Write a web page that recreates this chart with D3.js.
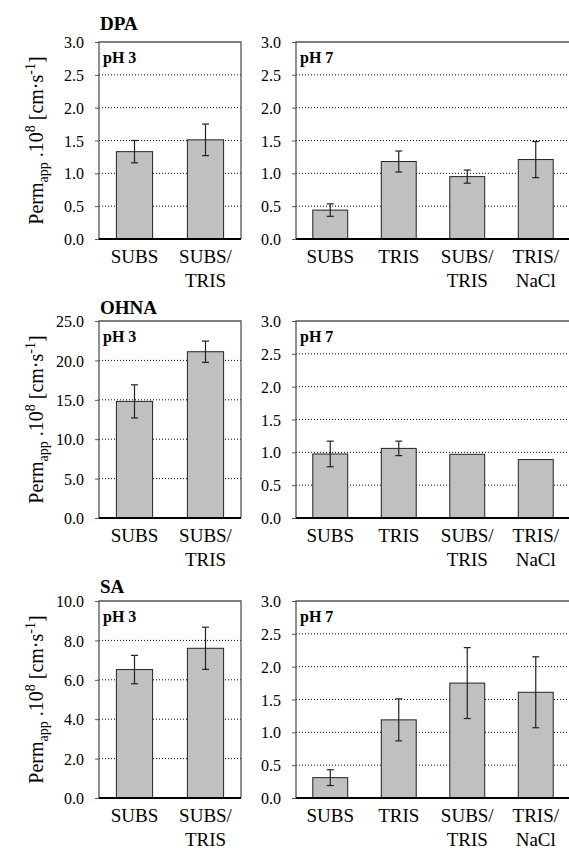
<!DOCTYPE html>
<html>
<head>
<meta charset="utf-8">
<script src="https://cdn.jsdelivr.net/npm/d3@7"></script>
</head>
<body style="margin:0">
<script>
// Data
const compounds = ['DPA', 'OHNA', 'SA'];
const catsPH3 = ['SUBS', 'SUBS/TRIS'];
const catsPH7 = ['SUBS', 'TRIS', 'SUBS/TRIS', 'TRIS/NaCl'];

// y axis max / tick step for pH 3 panels (per compound)
const ph3Max = [3.0, 25.0, 10.0];
const ph3Step = [0.5, 5.0, 2.0];
const ph7Max = 3.0;
const ph7Step = 0.5;

const dpaPH3 = [1.33, 1.51];
const dpaPH3Err = [0.17, 0.24];
const dpaPH7 = [0.44, 1.18, 0.95, 1.21];
const dpaPH7Err = [0.095, 0.16, 0.10, 0.275];

const ohnaPH3 = [14.8, 21.1];
const ohnaPH3Err = [2.1, 1.35];
const ohnaPH7 = [0.975, 1.06, 0.97, 0.89];
const ohnaPH7Err = [0.195, 0.11, null, null];

const saPH3 = [6.52, 7.6];
const saPH3Err = [0.72, 1.07];
const saPH7 = [0.31, 1.19, 1.75, 1.61];
const saPH7Err = [0.12, 0.32, 0.54, 0.54];

const ph3Vals = [dpaPH3, ohnaPH3, saPH3];
const ph3Errs = [dpaPH3Err, ohnaPH3Err, saPH3Err];
const ph7Vals = [dpaPH7, ohnaPH7, saPH7];
const ph7Errs = [dpaPH7Err, ohnaPH7Err, saPH7Err];

// Layout
const width = 569, height = 848;
const FONT = '"Liberation Serif"';
const rowTops = [42, 321, 601];
const titleBase = [30, 314, 593];
const plotH = 197;
const leftPanel = { x: 99, w: 142 };
const rightPanel = { x: 296, w: 274 };

const svg = d3.select('body').append('svg')
    .attr('width', width)
    .attr('height', height);

function drawPanel(g, cats, vals, errs, yMax, yStep, label, w, closed) {
    const x = d3.scaleBand().domain(cats).range([0, w]).paddingInner(0.49).paddingOuter(0.245);
    const y = d3.scaleLinear().domain([0, yMax]).range([plotH, 0]);
    const ticks = d3.range(0, yMax + yStep / 2, yStep);

    // grid
    g.selectAll('.grid')
        .data(ticks.filter(t => t > 0 && t < yMax - 1e-9))
        .join('line')
        .attr('x1', 0).attr('x2', w)
        .attr('y1', d => y(d)).attr('y2', d => y(d))
        .attr('stroke', '#000')
        .attr('stroke-width', 1)
        .attr('stroke-dasharray', '1,2');

    // box
    g.append('path')
        .attr('fill', 'none')
        .attr('stroke', '#555')
        .attr('stroke-width', 1.3)
        .attr('d', closed
            ? `M0,${plotH}V0H${w}V${plotH}`
            : `M0,${plotH}V0H${w}`);

    // bars
    g.selectAll('.bar')
        .data(vals)
        .join('rect')
        .attr('x', (d, i) => x(cats[i]))
        .attr('y', d => y(d))
        .attr('width', x.bandwidth())
        .attr('height', d => plotH - y(d))
        .attr('fill', '#c0c0c0')
        .attr('stroke', '#222')
        .attr('stroke-width', 1);

    // error bars
    const eb = g.selectAll('.err')
        .data(vals.map((v, i) => ({ v, e: errs[i], c: cats[i] })).filter(d => d.e != null))
        .join('g')
        .attr('transform', d => `translate(${x(d.c) + x.bandwidth() / 2},0)`)
        .attr('stroke', '#222')
        .attr('stroke-width', 1.2);
    eb.append('line').attr('y1', d => y(d.v + d.e)).attr('y2', d => y(d.v - d.e));
    eb.append('line').attr('x1', -3.5).attr('x2', 3.5).attr('y1', d => y(d.v + d.e)).attr('y2', d => y(d.v + d.e));
    eb.append('line').attr('x1', -3.5).attr('x2', 3.5).attr('y1', d => y(d.v - d.e)).attr('y2', d => y(d.v - d.e));

    // y axis
    const yAxis = g.append('g')
        .call(d3.axisLeft(y).tickValues(ticks).tickFormat(d3.format('.1f')).tickSizeInner(4).tickSizeOuter(0));
    yAxis.attr('font-family', null).attr('font-size', null);
    yAxis.select('.domain').remove();
    yAxis.selectAll('line').attr('stroke', '#555');
    yAxis.selectAll('text')
        .attr('x', -15)
        .attr('dy', '0.35em')
        .attr('fill', '#000')
        .style('font-family', FONT)
        .style('font-size', '16px');

    // baseline axis
    g.append('line')
        .attr('x1', 0).attr('x2', w)
        .attr('y1', plotH).attr('y2', plotH)
        .attr('stroke', '#000')
        .attr('stroke-width', 2.2);

    // category labels
    const cl = g.selectAll('.cat')
        .data(cats)
        .join('text')
        .attr('text-anchor', 'middle')
        .style('font-family', FONT)
        .style('font-size', '19px')
        .attr('transform', d => `translate(${x(d) + x.bandwidth() / 2},${plotH + 24})`);
    cl.each(function (d) {
        const parts = d.split('/');
        const t = d3.select(this);
        parts.forEach((p, i) => {
            t.append('tspan')
                .attr('x', 0)
                .attr('dy', i === 0 ? 0 : 24)
                .text(i < parts.length - 1 ? p + '/' : p);
        });
    });

    // pH label
    g.append('text')
        .attr('x', 4).attr('y', 21)
        .style('font-family', FONT)
        .style('font-size', '16px')
        .style('font-weight', 'bold')
        .text(label);
}

compounds.forEach((name, r) => {
    const top = rowTops[r];

    const gl = svg.append('g').attr('transform', `translate(${leftPanel.x},${top})`);
    drawPanel(gl, catsPH3, ph3Vals[r], ph3Errs[r], ph3Max[r], ph3Step[r], 'pH 3', leftPanel.w, true);

    const gr = svg.append('g').attr('transform', `translate(${rightPanel.x},${top})`);
    drawPanel(gr, catsPH7, ph7Vals[r], ph7Errs[r], ph7Max, ph7Step, 'pH 7', rightPanel.w, false);

    // compound title
    svg.append('text')
        .attr('x', leftPanel.x + 1)
        .attr('y', titleBase[r])
        .style('font-family', FONT)
        .style('font-size', '19px')
        .style('font-weight', 'bold')
        .text(name);

    // y axis title
    const yt = svg.append('text')
        .attr('text-anchor', 'middle')
        .style('font-family', FONT)
        .style('font-size', '20px')
        .attr('transform', `translate(43,${top + plotH / 2}) rotate(-90)`);
    yt.append('tspan').text('Perm');
    yt.append('tspan').style('font-size', '14px').attr('dy', 5).text('app');
    yt.append('tspan').attr('dy', -5).text(' .10');
    yt.append('tspan').style('font-size', '14px').attr('dy', -8).text('8');
    yt.append('tspan').attr('dy', 8).text('  [cm·s');
    yt.append('tspan').style('font-size', '14px').attr('dy', -8).text('-1');
    yt.append('tspan').attr('dy', 8).text(']');
});
</script>
</body>
</html>
